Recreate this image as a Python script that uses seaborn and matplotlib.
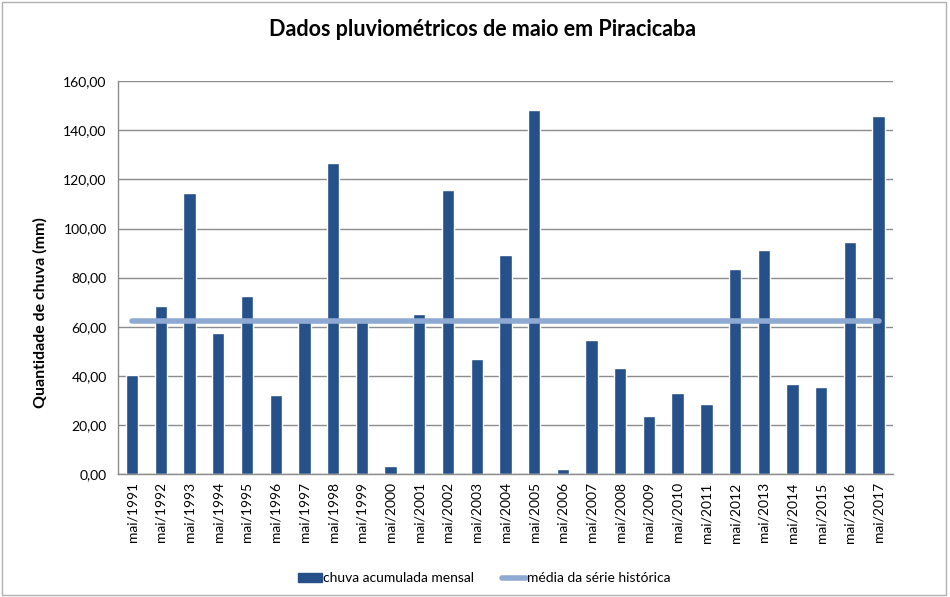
import matplotlib.pyplot as plt
import seaborn as sns
import pandas as pd
from matplotlib.patches import Patch, Rectangle
from matplotlib.lines import Line2D
from matplotlib.ticker import FuncFormatter

# === dados ===
anos = list(range(1991, 2018))
rotulos = [f"mai/{a}" for a in anos]
chuva = [40.3, 68.3, 114.3, 57.4, 72.4, 32.1, 62.0, 126.5, 62.0, 3.3,
         65.1, 115.5, 46.8, 89.2, 148.4, 2.0, 54.5, 43.1, 23.6, 32.9,
         28.5, 83.5, 91.2, 36.6, 35.4, 94.5, 145.9]
media_historica = 62.4

df = pd.DataFrame({"mes": rotulos, "chuva": chuva})

cor_barra = "#25508A"
cor_media = "#8EA9D2"

sns.set_theme(style="white")
plt.rcParams['font.family'] = ['Lato', 'DejaVu Sans']
plt.rcParams['text.color'] = 'black'
plt.rcParams['axes.labelcolor'] = 'black'

fig = plt.figure(figsize=(9.5, 5.97), dpi=100)
ax = fig.add_axes([0.124, 0.206, 0.816, 0.658])

sns.barplot(data=df, x="mes", y="chuva", color=cor_barra, width=0.43,
            saturation=1, ax=ax, zorder=2)

# linha da média
xs = list(range(len(rotulos)))
ax.plot(xs, [media_historica] * len(xs), color=cor_media, lw=4,
        solid_capstyle="round", zorder=3)

ax.set_xlim(-0.5, len(rotulos) - 0.5)
ax.set_ylim(0, 160)
ax.set_yticks(range(0, 161, 20))
ax.yaxis.set_major_formatter(FuncFormatter(lambda v, p: f"{v:.2f}".replace(".", ",")))
ax.grid(axis="y", color="#8c8c8c", lw=1, zorder=0)
ax.set_axisbelow(True)

for s in ["top", "right"]:
    ax.spines[s].set_visible(False)
for s in ["left", "bottom"]:
    ax.spines[s].set_color("#8c8c8c")
    ax.spines[s].set_linewidth(1)

ax.tick_params(axis="x", rotation=90, labelsize=10, length=0, pad=6, colors="black")
ax.tick_params(axis="y", labelsize=10, length=0, pad=8, colors="black")
ax.set_xlabel("")
ax.set_ylabel("Quantidade de chuva (mm)", fontsize=11.5, fontweight="bold")
ax.yaxis.set_label_coords(-0.09, 0.41)

fig.suptitle("Dados pluviométricos de maio em Piracicaba", fontsize=15.5,
             fontweight="bold", x=0.508, y=0.968, color="black")

handles = [Patch(facecolor=cor_barra, edgecolor=cor_barra),
           Line2D([0], [0], color=cor_media, lw=4, solid_capstyle="round")]
fig.legend(handles, ["chuva acumulada mensal", "média da série histórica"],
           loc="center", bbox_to_anchor=(0.51, 0.031), ncol=2, frameon=False,
           fontsize=10, handlelength=1.7, handletextpad=0.1, columnspacing=2.0)

fig.patches.append(Rectangle((0.002, 0.003), 0.994, 0.994, transform=fig.transFigure,
                             fill=False, edgecolor="#b0b0b0", lw=1))

fig.savefig("out.png", dpi=100)
